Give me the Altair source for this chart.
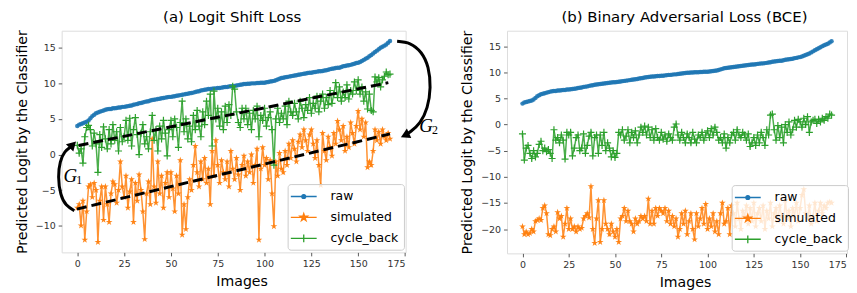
import altair as alt
import pandas as pd

# ---------------- data ----------------
images = list(range(168))

raw = [4.0, 4.2, 4.3, 4.4, 4.5, 4.6, 4.8, 5.1, 5.4, 5.6,
       5.8, 5.9, 6.0, 6.1, 6.2, 6.3, 6.35, 6.4, 6.4, 6.5,
       6.5, 6.55, 6.6, 6.6, 6.7, 6.7, 6.75, 6.8, 6.85, 6.9,
       7.0, 7.05, 7.1, 7.2, 7.25, 7.3, 7.4, 7.45, 7.5, 7.6,
       7.65, 7.7, 7.75, 7.8, 7.85, 7.9, 7.95, 8.0, 8.05, 8.1,
       8.1, 8.15, 8.2, 8.25, 8.3, 8.35, 8.4, 8.45, 8.5, 8.55,
       8.6, 8.65, 8.7, 8.8, 8.85, 8.9, 9.0, 9.05, 9.1, 9.15,
       9.2, 9.2, 9.25, 9.3, 9.3, 9.35, 9.35, 9.4, 9.45, 9.5,
       9.5, 9.55, 9.6, 9.6, 9.65, 9.7, 9.75, 9.8, 9.85, 9.9,
       9.9, 9.95, 9.95, 10.0, 10.0, 10.0, 10.05, 10.05, 10.1, 10.1,
       10.1, 10.15, 10.2, 10.25, 10.3, 10.35, 10.45, 10.55, 10.65, 10.75,
       10.8, 10.85, 10.9, 10.95, 11.0, 11.05, 11.1, 11.15, 11.2, 11.25,
       11.3, 11.35, 11.4, 11.45, 11.5, 11.5, 11.55, 11.6, 11.65, 11.7,
       11.7, 11.75, 11.8, 11.85, 11.9, 12.0, 12.05, 12.1, 12.15, 12.2,
       12.2, 12.3, 12.4, 12.45, 12.5, 12.55, 12.6, 12.7, 12.75, 12.85,
       12.9, 13.0, 13.15, 13.3, 13.45, 13.6, 13.8, 14.0, 14.2, 14.4,
       14.6, 14.8, 15.0, 15.15, 15.3, 15.45, 15.7, 15.95]

sim_a = [-7.5, -7.0, -10.0, -6.5, -12.0, -8.0, -4.5, -4.2, -6.0, -4.0,
         -5.0, -12.3, -6.5, -4.5, -9.2, -4.5, -7.0, -9.5, -5.5, -3.8,
         -4.2, -6.8, -5.0, -1.0, -4.5, -6.0, -3.0, -7.5, -5.2, -3.5,
         -9.5, -4.0, -6.5, -2.8, -5.0, -8.0, -11.9, -5.5, -3.8, -7.0,
         2.2, -4.5, -6.8, -1.0, -5.5, -3.0, -7.5, -4.0, -2.5, -6.0,
         -2.5, -4.8, -8.0, -3.0, -5.5, -0.8, -11.3, -7.0, -10.5, -6.0,
         -3.5, -5.0, -1.5, 1.2, -2.5, -4.5, -1.0, -3.5, -0.5, -4.0,
         -2.0, -7.0, 0.5, -3.0, 2.0, -1.5, -4.0, -0.8, -2.5, -3.5,
         -1.0, -4.5, 0.5, -2.0, -3.5, -0.5, -2.8, -5.0, -1.5, -0.2,
         -3.0, -1.0, -2.5, 0.0, -4.0, -1.5, 0.8, -12.0, -2.0, 1.0,
         -1.5, -0.5, -3.5, -0.8, -5.5, -10.1, -1.0, -3.0, 0.2, -2.0,
         -2.5, 0.5, -1.5, 1.5, -0.5, 2.0, 0.8, -1.0, 1.8, 2.8,
         1.0, 3.5, 2.0, 0.5, 2.8, 3.5, 1.5, -0.5, 2.0, -1.5,
         -4.3, 3.0, 0.5, -0.8, 2.5, 1.0, -0.2, 3.0, 1.5, 4.7,
         3.5, 2.0, 4.0, 0.5, 2.5, 1.0, 4.5, 3.0, 1.5, 4.0,
         6.1, 3.5, 5.0, 2.5, 4.5, -1.8, -1.0, -1.5, 0.5, 3.5,
         2.0, 3.2, 1.5, 3.5, 2.5, 2.0, 3.0, 2.2]

cyc_a = [1.3, 0.2, 0.8, -1.2, 2.5, 3.8, 4.1, 3.5, 1.2, 3.0,
         1.5, -2.5, 2.8, 1.0, 3.9, 2.2, 0.8, 3.5, 1.5, 4.2,
         2.0, 3.2, 0.5, 3.8, 1.8, 2.5, 4.8, 2.0, 5.1, 1.2,
         3.5, 5.2, 2.8, 0.0, 3.0, 4.2, 1.5, 2.5, 0.8, 3.2,
         5.5, 2.0, 3.5, 0.5, 4.0, 2.2, 4.8, 3.0, -0.2, 3.5,
         4.8, 2.5, 5.0, 3.8, 1.0, 4.5, 7.5, 3.2, 5.0, 2.2,
         4.0, 1.8, 5.5, 3.5, 6.2, 4.0, 2.5, 6.0, 4.2, 7.5,
         5.5, 8.5, 1.2, 8.9, 5.0, 6.5, 4.0, 6.0, 3.5, 6.8,
         4.5, 7.0, 5.5, 9.6, 9.2, 6.0, 4.5, 3.8, 6.5, 5.0,
         6.5, 4.2, 5.8, 3.5, 6.2, 5.0, 6.8, 2.5, 5.5, 4.8,
         6.5, 4.0, 5.2, 6.0, 3.5, -1.5, 5.0, 6.5, 4.5, 5.8,
         5.0, 6.8, 4.2, 7.5, 6.0, 5.5, 7.2, 6.0, 5.0, 7.5,
         6.5, 5.2, 7.0, 6.2, 8.0, 5.8, 7.2, 6.5, 8.2, 6.0,
         7.5, 8.5, 6.5, 8.0, 7.0, 9.0, 7.2, 8.5, 10.1, 8.0,
         9.5, 7.5, 8.8, 8.0, 9.8, 7.8, 9.0, 8.5, 10.2, 9.0,
         10.5, 8.5, 9.5, 7.5, 8.8, 6.4, 8.5, 6.2, 6.0, 10.9,
         10.2, 10.8, 9.5, 10.5, 11.0, 11.6, 11.2, 11.3]

sim_b = [-19.5, -21.0, -20.5, -21.0, -20.8, -20.0, -20.5, -18.5, -18.3, -18.0,
         -18.3, -16.0, -15.5, -17.0, -21.0, -21.2, -20.0, -19.5, -20.5, -16.8,
         -18.0, -17.5, -21.5, -19.0, -16.0, -20.0, -18.0, -20.0, -19.5, -20.5,
         -19.5, -20.0, -19.8, -18.0, -17.5, -17.0, -17.8, -11.8, -20.0, -22.7,
         -18.0, -14.5, -22.5, -20.0, -14.5, -19.0, -20.0, -21.0, -19.0, -20.5,
         -21.5, -20.0, -22.5, -18.0, -17.5, -16.0, -18.5, -16.5, -18.5, -19.0,
         -20.5, -18.0, -19.0, -18.5, -17.5, -18.0, -17.5, -18.5, -14.2, -19.0,
         -16.5, -19.0, -16.0, -17.5, -16.0, -16.5, -17.0, -16.0, -18.5, -16.5,
         -19.0, -17.5, -19.5, -18.0, -21.5, -20.0, -17.0, -19.0, -16.5, -21.0,
         -18.5, -17.0, -20.0, -22.0, -17.0, -19.5, -18.0, -16.0, -19.0, -15.2,
         -20.0, -18.0, -19.5, -17.0, -20.5, -18.5, -21.0, -17.0, -15.0, -19.0,
         -18.5, -16.0, -21.0, -15.5, -17.0, -19.5, -15.0, -18.0, -20.0, -16.5,
         -17.5, -15.5, -19.0, -16.0, -18.5, -15.0, -19.5, -17.0, -16.0, -18.5,
         -15.5, -20.0, -16.5, -18.0, -15.0, -19.5, -17.0, -16.0, -18.5, -15.5,
         -17.5, -19.0, -14.5, -18.0, -16.5, -19.5, -16.0, -17.5, -15.0, -18.5,
         -16.0, -13.5, -12.4, -17.0, -18.0, -15.5, -19.0, -17.5, -15.0, -18.5,
         -16.5, -15.0, -17.0, -15.5, -16.0, -15.0, -14.8, -15.0]

cyc_b = [-1.8, -6.8, -4.5, -4.0, -5.5, -6.5, -5.0, -6.2, -5.5, -3.8,
         -3.2, -5.0, -4.5, -5.2, -4.8, -5.5, -6.5, -1.0, -3.0, -2.5,
         -3.5, -2.0, -3.0, -6.6, -1.5, -2.0, -1.5, -6.0, -4.5, -2.5,
         -2.0, -5.0, -4.5, -1.8, -5.5, -4.0, -2.2, -1.5, -6.0, -2.5,
         -2.0, -5.5, -2.0, -4.0, -1.5, -5.0, -3.5, -4.5, -6.2, -5.0,
         -6.3, -5.5, -1.5, -2.0, -1.0, -3.0, -2.2, -1.0, -3.5, -1.5,
         -2.5, -1.2, -3.5, -2.0, -0.5, -1.5, -0.3, -2.0, -0.5, -2.5,
         -1.0, -3.0, -0.8, -2.5, -3.0, -1.5, -2.8, -2.0, -3.2, -1.8,
         -2.5, -3.0, -0.5, 0.1, -2.0, -3.0, -1.5, -2.5, -3.5, -1.8,
         -2.5, -3.5, -1.5, -2.8, -3.5, -2.0, -2.5, -1.5, -3.0, -2.0,
         -1.2, -2.5, -0.8, -2.0, -0.5, -1.5, -3.0, -2.5, -3.5, -1.8,
         -4.5, -2.5, -3.5, -2.0, -1.5, -3.0, -1.0, -2.0, -2.5, -1.5,
         -2.0, -3.0, -1.8, -4.2, -3.5, -2.5, -4.0, -2.0, -3.5, -1.5,
         -2.5, -4.0, -1.0, -2.0, 1.8, 2.0, -1.0, -3.0, -0.2, -2.5,
         -0.5, -3.5, 0.0, -1.5, 0.5, -2.0, -1.0, 0.8, -0.5, 1.0,
         0.5, -0.5, 1.2, 0.0, 1.5, -1.5, 0.5, 0.8, 1.0, 0.2,
         1.0, 0.5, 1.2, 0.8, 1.5, 1.2, 2.0, 1.8]

series_names = ["raw", "simulated", "cycle_back"]
series_colors = ["#1f77b4", "#ff7f0e", "#2ca02c"]

x_ticks = [0, 25, 50, 75, 100, 125, 150, 175]
ya_ticks = [-10, -5, 0, 5, 10, 15]
yb_ticks = [-20, -15, -10, -5, 0, 5, 10, 15]

title_a = "(a) Logit Shift Loss"
title_b = "(b) Binary Adversarial Loss (BCE)"
y_title = "Predicted Logit by the Classifier"
x_title = "Images"

# annotation anchors for panel (a), in data coordinates
dash_id = ["upper", "upper", "lower", "lower"]
dash_x = [0.7, 166.1, -0.2, 167.0]
dash_y = [1.27, 10.1, -7.67, 2.9]

g1_x = [-1.6, -5.87, -8.8, -9.98, -9.07, -6.67, -3.74, -2.4]
g1_y = [-7.9, -7.07, -5.53, -3.16, -1.06, 0.34, 1.03, 1.38]
g2_x = [170.8, 177.7, 183.6, 187.3, 188.4, 186.8, 183.0, 178.2, 175.0]
g2_y = [15.91, 15.56, 14.3, 12.2, 9.41, 6.62, 4.53, 3.27, 2.71]
label_x = [-3.7, 186.2]
label_y = [-3.0, 3.97]
label_sub = ["1", "2"]

# ---------------- shapes ----------------
STAR = ("M0,-1L0.2245,-0.309L0.951,-0.309L0.363,0.118L0.588,0.809L0,0.382"
        "L-0.588,0.809L-0.363,0.118L-0.951,-0.309L-0.2245,-0.309Z")
PLUS = "M-1,0H1M0,-1V1"
LEG_RAW = "M-2,0H2M0.3,0A0.3,0.3,0,1,1,-0.3,0A0.3,0.3,0,1,1,0.3,0Z"
LEG_STAR = ("M-2,0H2M0,-0.6L0.135,-0.186L0.571,-0.185L0.219,0.071L0.353,0.485"
            "L0,0.23L-0.353,0.485L-0.219,0.071L-0.571,-0.185L-0.135,-0.186Z")
LEG_PLUS = "M-2,0H2M0,-0.6V0.6"

FONT = "DejaVu Sans"
W_A, H_A = 346, 223
W_B, H_B = 342, 224
X_DOMAIN = [-8.35, 175.35]


def make_df(sim, cyc):
    rows = []
    for name, vals in zip(series_names, [raw, sim, cyc]):
        for i, v in zip(images, vals):
            rows.append({"i": i, "v": v, "series": name})
    return pd.DataFrame(rows)


def panel(df, ydomain, yticks, title, w, h, title_dx, leg_x, leg_y, extra=None):
    xs = alt.X("i:Q", scale=alt.Scale(domain=X_DOMAIN, nice=False, zero=False),
               axis=alt.Axis(values=x_ticks, title=x_title, grid=False, domain=False,
                             labelFont=FONT, labelFontSize=9.5, labelColor="#333",
                             tickSize=3.5, tickColor="#333", tickWidth=0.8,
                             labelPadding=3, titleFont=FONT, titleFontSize=14.2,
                             titleFontWeight="normal", titleColor="black",
                             titlePadding=6, titleX=w / 2 + 8))
    ys = alt.Y("v:Q", scale=alt.Scale(domain=ydomain, nice=False, zero=False),
               axis=alt.Axis(values=yticks, title=y_title, grid=False, domain=False,
                             labelFont=FONT, labelFontSize=9.5, labelColor="#333",
                             tickSize=3.5, tickColor="#333", tickWidth=0.8,
                             labelPadding=3, titleFont=FONT, titleFontSize=14.2,
                             titleFontWeight="normal", titleColor="black",
                             titlePadding=6))
    base = alt.Chart(df)
    layers = []
    for name, col in zip(series_names, series_colors):
        sub = base.transform_filter(alt.datum.series == name)
        layers.append(sub.mark_line(color=col, strokeWidth=1.5, opacity=0.85).encode(x=xs, y=ys))
        if name == "raw":
            layers.append(sub.mark_circle(color=col, size=20, opacity=0.9).encode(x=xs, y=ys))
        elif name == "simulated":
            layers.append(sub.mark_point(shape=STAR, filled=True, color=col, size=50,
                                         opacity=0.95).encode(x=xs, y=ys))
        else:
            layers.append(sub.mark_point(shape=PLUS, filled=False, color=col, size=50,
                                         strokeWidth=1.2, opacity=1).encode(x=xs, y=ys))
    if extra is not None:
        layers.extend(extra(xs, ys))

    leg = alt.Legend(title=None, orient="none", legendX=leg_x, legendY=leg_y, padding=5,
                     fillColor="rgba(255,255,255,0.8)", strokeColor="#cccccc",
                     cornerRadius=3, labelFont=FONT, labelFontSize=12.5,
                     labelColor="black", symbolSize=169, symbolStrokeWidth=1.3,
                     symbolOffset=3.7, labelOffset=19.4, rowPadding=7)
    layers.append(
        base.transform_filter("datum.i < 0").mark_point(filled=True, opacity=1).encode(
            x=xs, y=ys,
            fill=alt.Fill("series:N", scale=alt.Scale(domain=series_names, range=series_colors), legend=leg),
            stroke=alt.Stroke("series:N", scale=alt.Scale(domain=series_names, range=series_colors), legend=leg),
            shape=alt.Shape("series:N", scale=alt.Scale(domain=series_names, range=[LEG_RAW, LEG_STAR, LEG_PLUS]), legend=leg),
        )
    )
    return alt.layer(*layers).properties(
        width=w, height=h,
        title=alt.TitleParams(title, font=FONT, fontSize=15, fontWeight="normal",
                              color="black", offset=5, dx=title_dx),
    )


def annotations(xs, ys):
    ddf = pd.DataFrame({"id": dash_id, "i": dash_x, "v": dash_y})
    g1 = pd.DataFrame({"k": list(range(len(g1_x))), "i": g1_x, "v": g1_y})
    g2 = pd.DataFrame({"k": list(range(len(g2_x))), "i": g2_x, "v": g2_y})
    ldf = pd.DataFrame({"i": label_x, "v": label_y, "sub": label_sub})
    out = [
        alt.Chart(ddf).mark_line(color="black", strokeWidth=3, strokeDash=[10, 5]).encode(
            x=xs, y=ys, detail="id:N"),
        alt.Chart(g1).mark_line(color="black", strokeWidth=3, interpolate="natural").encode(
            x=xs, y=ys, order="k:Q"),
        alt.Chart(g2).mark_line(color="black", strokeWidth=3, interpolate="natural").encode(
            x=xs, y=ys, order="k:Q"),
        alt.Chart(g1).transform_filter(alt.datum.k == len(g1_x) - 1).mark_point(
            shape="triangle-up", filled=True, color="black", size=110, angle=45, opacity=1).encode(x=xs, y=ys),
        alt.Chart(g2).transform_filter(alt.datum.k == len(g2_x) - 1).mark_point(
            shape="triangle-up", filled=True, color="black", size=110, angle=245, opacity=1).encode(x=xs, y=ys),
        alt.Chart(ldf).mark_text(text="G", font="Liberation Serif", fontStyle="italic",
                                 fontSize=19, color="black").encode(x=xs, y=ys),
        alt.Chart(ldf).mark_text(font="Liberation Serif", fontSize=12, color="black",
                                 dx=9, dy=4).encode(x=xs, y=ys, text="sub:N"),
    ]
    return out


pa = panel(make_df(sim_a, cyc_a), [-13.75, 17.4], ya_ticks, title_a, W_A, H_A, -1.5,
           227.3, 154.3, annotations)
pb = panel(make_df(sim_b, cyc_b), [-24.65, 17.95], yb_ticks, title_b, W_B, H_B, 7.5,
           226, 155.3)

chart = alt.hconcat(pa, pb, spacing=102, bounds="flush").resolve_scale(
    x="independent", y="independent", fill="independent", stroke="independent",
    shape="independent", color="independent"
).properties(padding={"left": 6, "top": 0, "right": 0, "bottom": 0}).configure_view(
    stroke="#555", strokeWidth=1
).configure(font=FONT)

chart.save("out.html", embed_options={"renderer": "svg", "actions": False})
